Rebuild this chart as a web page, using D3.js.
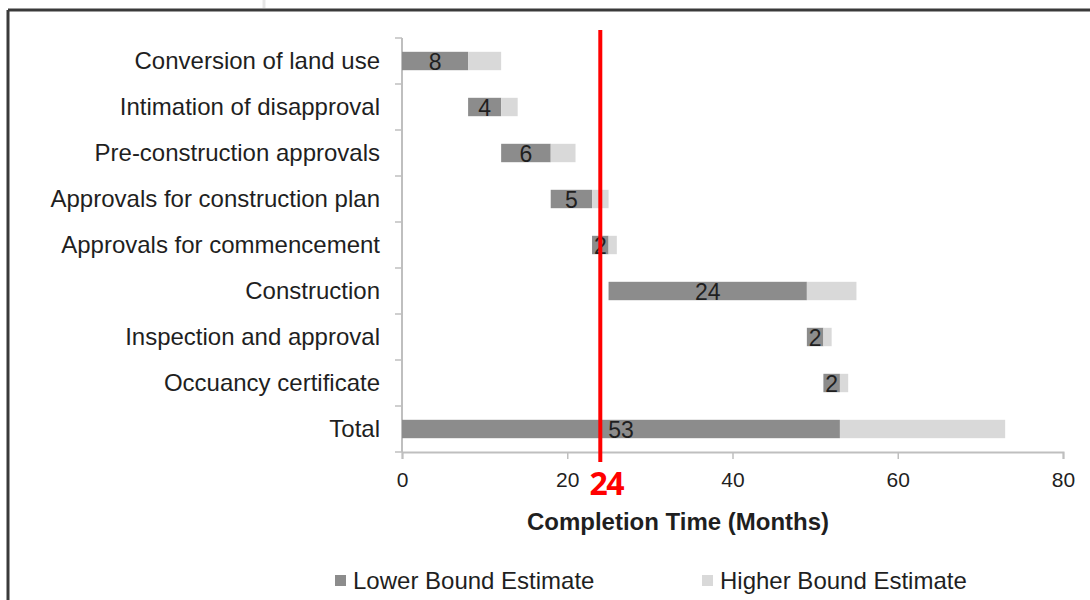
<!DOCTYPE html>
<html>
<head>
<meta charset="utf-8">
<script src="https://cdn.jsdelivr.net/npm/d3@7"></script>
<style>
  html, body { margin: 0; padding: 0; background: #fff; }
  svg { display: block; font-family: "Liberation Sans", Arial, sans-serif; }
</style>
</head>
<body>
<svg id="chart" width="1090" height="600"></svg>
<script>
// Approval stages and their timelines (months)
const stages = [
  "Conversion of land use",
  "Intimation of disapproval",
  "Pre-construction approvals",
  "Approvals for construction plan",
  "Approvals for commencement",
  "Construction",
  "Inspection and approval",
  "Occuancy certificate",
  "Total"
];
const startMonth = [0, 8, 12, 18, 23, 25, 49, 51, 0];
const lowerBound = [8, 4, 6, 5, 2, 24, 2, 2, 53];
const higherExtra = [4, 2, 3, 2, 1, 6, 1, 1, 20];
const xTicks = [0, 20, 40, 60, 80];
const targetMonths = 24;
const seriesNames = ["Lower Bound Estimate", "Higher Bound Estimate"];

const colors = { lower: "#8c8c8c", higher: "#d9d9d9", axis: "#bfbfbf", text: "#1f1f1f", target: "#ff0000" };

const svg = d3.select("#chart");

// Outer frame (top and left edges)
svg.append("line").attr("x1", 8).attr("x2", 1090).attr("y1", 10).attr("y2", 10)
  .attr("stroke", "#3a3a3a").attr("stroke-width", 3);
svg.append("line").attr("x1", 8).attr("x2", 8).attr("y1", 10).attr("y2", 600)
  .attr("stroke", "#3a3a3a").attr("stroke-width", 3);
svg.append("line").attr("x1", 264).attr("x2", 264).attr("y1", 0).attr("y2", 8)
  .attr("stroke", "#e6e6e6").attr("stroke-width", 3);

const x = d3.scaleLinear().domain([0, 80]).range([402, 1063]);
const y = d3.scaleBand().domain(stages).range([38, 452]).paddingInner(0.6).paddingOuter(0.3);

const rows = stages.map((s, i) => ({
  stage: s, start: startMonth[i], lower: lowerBound[i], extra: higherExtra[i]
}));

// Axes
const xAxisG = svg.append("g").attr("transform", "translate(0,452)")
  .call(d3.axisBottom(x).tickValues(xTicks).tickSize(7).tickPadding(13).tickFormat(d3.format("d")));
xAxisG.select(".domain").attr("stroke", colors.axis).attr("stroke-width", 2);
xAxisG.selectAll(".tick line").attr("stroke", colors.axis).attr("stroke-width", 1.5);
xAxisG.selectAll(".tick text").attr("fill", colors.text).attr("font-size", 21)
  .attr("font-family", "Liberation Sans, Arial, sans-serif");

// Vertical category axis with boundary ticks
const gap = y.step() - y.bandwidth();
svg.append("line").attr("x1", 402).attr("x2", 402).attr("y1", 38).attr("y2", 452)
  .attr("stroke", colors.axis).attr("stroke-width", 2);
const bounds = stages.map(s => y(s) - gap / 2).concat([y(stages[stages.length - 1]) + y.bandwidth() + gap / 2]);
svg.append("g").selectAll("line").data(bounds).join("line")
  .attr("x1", 395).attr("x2", 402).attr("y1", d => d).attr("y2", d => d)
  .attr("stroke", colors.axis).attr("stroke-width", 1.5);

svg.append("g").selectAll("text").data(rows).join("text")
  .attr("x", 380).attr("y", d => y(d.stage) + y.bandwidth() / 2)
  .attr("dy", "0.35em").attr("text-anchor", "end")
  .attr("font-size", 24).attr("fill", colors.text).text(d => d.stage);

// Lower bound bars
svg.append("g").selectAll("rect").data(rows).join("rect")
  .attr("x", d => x(d.start)).attr("y", d => y(d.stage))
  .attr("width", d => x(d.start + d.lower) - x(d.start)).attr("height", y.bandwidth())
  .attr("fill", colors.lower);

// Higher bound extension
svg.append("g").selectAll("rect").data(rows).join("rect")
  .attr("x", d => x(d.start + d.lower)).attr("y", d => y(d.stage))
  .attr("width", d => x(d.start + d.lower + d.extra) - x(d.start + d.lower)).attr("height", y.bandwidth())
  .attr("fill", colors.higher);

// Value labels on lower bound bars
svg.append("g").selectAll("text").data(rows).join("text")
  .attr("x", d => x(d.start + d.lower / 2)).attr("y", d => y(d.stage) + y.bandwidth() / 2)
  .attr("dy", "0.37em").attr("text-anchor", "middle")
  .attr("font-size", 23).attr("fill", colors.text).text(d => d.lower);

// 24-month target line
svg.append("line").attr("x1", x(targetMonths)).attr("x2", x(targetMonths))
  .attr("y1", 30).attr("y2", 462).attr("stroke", colors.target).attr("stroke-width", 4);
svg.append("text").attr("x", x(targetMonths) + 6).attr("y", 495)
  .attr("text-anchor", "middle").attr("font-family", "Open Sans, sans-serif")
  .attr("font-weight", "bold").attr("font-size", 32).attr("letter-spacing", -1.5)
  .attr("fill", colors.target).text(targetMonths);

// Axis title
svg.append("text").attr("x", 678).attr("y", 530).attr("text-anchor", "middle")
  .attr("font-weight", "bold").attr("font-size", 24).attr("fill", colors.text)
  .text("Completion Time (Months)");

// Legend
const legend = [
  { name: seriesNames[0], color: colors.lower, x: 335 },
  { name: seriesNames[1], color: colors.higher, x: 702 }
];
const lg = svg.append("g").selectAll("g").data(legend).join("g")
  .attr("transform", d => `translate(${d.x},575)`);
lg.append("rect").attr("width", 11).attr("height", 11).attr("fill", d => d.color);
lg.append("text").attr("x", 18).attr("y", 5.5).attr("dy", "0.36em")
  .attr("font-size", 24).attr("fill", colors.text).text(d => d.name);
</script>
</body>
</html>
